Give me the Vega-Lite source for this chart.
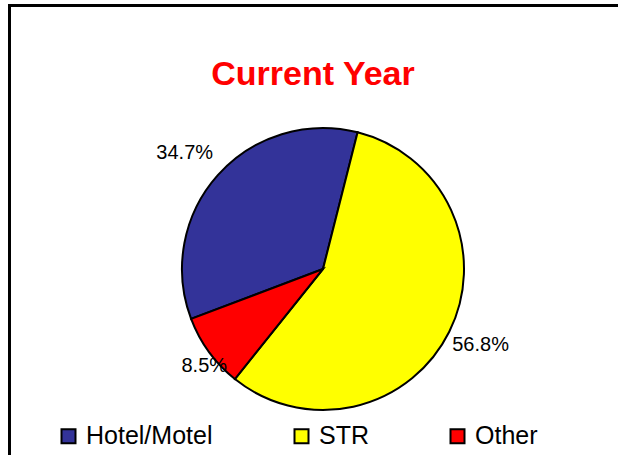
{
  "$schema": "https://vega.github.io/schema/vega-lite/v6.json",
  "width": 627,
  "height": 527,
  "autosize": {"type": "none"},
  "padding": {"left": 9.5, "top": 5.5, "right": -18.5, "bottom": -77.5},
  "background": "white",
  "view": {"stroke": "black", "strokeWidth": 3, "fill": "white"},
  "config": {"view": {"stroke": "black", "strokeWidth": 3}},
  "title": {
    "text": "Current Year",
    "font": "Liberation Sans Narrow, Arial Narrow, Liberation Sans",
    "fontSize": 34,
    "fontWeight": "bold",
    "color": "#FF0000",
    "anchor": "middle",
    "frame": "group",
    "baseline": "alphabetic",
    "offset": -113,
    "dx": -10
  },
  "data": {
    "values": [
      {"category": "Hotel/Motel", "share": 0.347, "idx": 1},
      {"category": "STR", "share": 0.568, "idx": 2},
      {"category": "Other", "share": 0.085, "idx": 3}
    ]
  },
  "encoding": {
    "theta": {"field": "share", "type": "quantitative", "stack": true, "scale": {"range": [4.351, 10.634]}},
    "order": {"field": "idx", "type": "quantitative"}
  },
  "layer": [
    {
      "mark": {"type": "arc", "outerRadius": 141, "stroke": "black", "strokeWidth": 2},
      "encoding": {
        "color": {
          "field": "category",
          "type": "nominal",
          "scale": {"domain": ["Hotel/Motel", "STR", "Other"], "range": ["#333399", "#FFFF00", "#FF0000"]},
          "legend": {
            "orient": "none",
            "legendX": 46.5,
            "legendY": 418,
            "direction": "horizontal",
            "title": null,
            "symbolType": "square",
            "symbolSize": 196,
            "symbolStrokeColor": "black",
            "symbolStrokeWidth": 2,
            "symbolOpacity": 1,
            "labelFont": "Liberation Sans",
            "labelFontSize": 25,
            "labelColor": "black",
            "labelOffset": 5,
            "columnPadding": 76,
            "labelLimit": 400
          }
        }
      }
    },
    {
      "mark": {"type": "text", "radius": 180, "dx": -4, "dy": 4, "font": "Liberation Sans", "fontSize": 20, "color": "black"},
      "encoding": {
        "detail": {"field": "category", "type": "nominal"},
        "text": {"field": "share", "type": "quantitative", "format": ".1%"},
        "opacity": {"condition": {"test": "datum.category === 'Hotel/Motel'", "value": 1}, "value": 0}
      }
    },
    {
      "mark": {"type": "text", "radius": 176, "dy": -2, "font": "Liberation Sans", "fontSize": 20, "color": "black"},
      "encoding": {
        "detail": {"field": "category", "type": "nominal"},
        "text": {"field": "share", "type": "quantitative", "format": ".1%"},
        "opacity": {"condition": {"test": "datum.category === 'STR'", "value": 1}, "value": 0}
      }
    },
    {
      "mark": {"type": "text", "radius": 153, "dx": 5, "dy": 7, "font": "Liberation Sans", "fontSize": 20, "color": "black"},
      "encoding": {
        "detail": {"field": "category", "type": "nominal"},
        "text": {"field": "share", "type": "quantitative", "format": ".1%"},
        "opacity": {"condition": {"test": "datum.category === 'Other'", "value": 1}, "value": 0}
      }
    }
  ]
}
